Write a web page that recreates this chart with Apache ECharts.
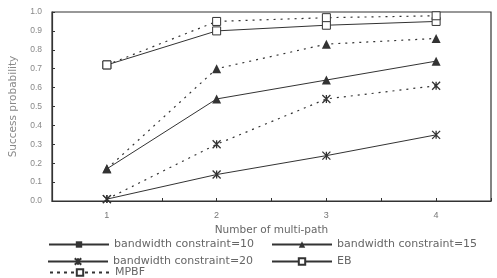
<!DOCTYPE html>
<html>
<head>
<meta charset="utf-8">
<script src="https://cdn.jsdelivr.net/npm/echarts@6/dist/echarts.min.js"></script>
<style>
  html, body { margin: 0; padding: 0; background: #fff; }
  #chart { width: 497px; height: 278px; }
</style>
</head>
<body>
<div id="chart"></div>
<script>
// number of multi-path
const paths = [1, 2, 3, 4]
const yTicks = [0, 0.1, 0.2, 0.3, 0.4, 0.5, 0.6, 0.7, 0.8, 0.9, 1.0]

// EB = solid lines, MPBF = dotted lines
const ebBw10 = [0.72, 0.90, 0.93, 0.95]
const mpbfBw10 = [0.72, 0.95, 0.97, 0.98]
const ebBw15 = [0.17, 0.54, 0.64, 0.74]
const mpbfBw15 = [0.17, 0.70, 0.83, 0.86]
const ebBw20 = [0.01, 0.14, 0.24, 0.35]
const mpbfBw20 = [0.01, 0.30, 0.54, 0.61]

const legendNames = ['bandwidth constraint=10', 'bandwidth constraint=15', 'bandwidth constraint=20', 'EB', 'MPBF']

const ink = '#333'
const star = 'path://M0,0L10,10M10,0L0,10M5,0L5,10'

const pairs = (vals) => paths.map((p, i) => [p, vals[i]])

const solid = { color: ink, width: 1, type: 'solid' }
const dotted = { color: ink, width: 1.2, type: [2, 5] }

const markStyle = {
  rect: { symbol: 'rect', symbolSize: 8, itemStyle: { color: '#fff', borderColor: ink, borderWidth: 1 } },
  tri: { symbol: 'triangle', symbolSize: 9, itemStyle: { color: ink, borderColor: ink, borderWidth: 0 } },
  star: { symbol: star, symbolSize: 8, itemStyle: { color: ink, borderColor: ink, borderWidth: 1.3 } }
}

const dataSeries = (name, vals, mark, line) => ({
  name: name,
  type: 'line',
  data: pairs(vals),
  symbol: markStyle[mark].symbol,
  symbolSize: markStyle[mark].symbolSize,
  itemStyle: markStyle[mark].itemStyle,
  lineStyle: line,
  animation: false,
  z: 3
})

// legend-only series
const legendSeries = (name, symbol, size, item, line) => ({
  name: name,
  type: 'line',
  data: [],
  symbol: symbol,
  symbolSize: size,
  itemStyle: item,
  lineStyle: line
})

const legendText = { color: '#666', fontSize: 11, fontFamily: 'DejaVu Sans' }
const oneLegend = (name, left, top) => ({
  data: [name],
  left: left,
  top: top,
  padding: 0,
  itemWidth: 60,
  itemHeight: 8,
  selectedMode: false,
  textStyle: legendText
})

const chart = echarts.init(document.getElementById('chart'), null, { renderer: 'canvas' })

chart.setOption({
  animation: false,
  backgroundColor: '#fff',
  grid: {
    left: 48,
    right: 6,
    top: 12,
    height: 189,
    show: true,
    borderColor: ink,
    borderWidth: 1.2
  },
  xAxis: {
    type: 'value',
    min: 0.5,
    max: 4.5,
    interval: 0.5,
    name: 'Number of multi-path',
    nameLocation: 'middle',
    nameGap: 24,
    nameTextStyle: { color: '#666', fontSize: 10.5, fontFamily: 'DejaVu Sans' },
    axisLine: { lineStyle: { color: ink, width: 1.2 } },
    axisTick: { inside: true, length: 3, lineStyle: { color: ink } },
    splitLine: { show: false },
    axisLabel: {
      color: '#777',
      fontSize: 9,
      margin: 10,
      formatter: (v) => (paths.indexOf(v) >= 0 ? String(v) : '')
    }
  },
  yAxis: {
    type: 'value',
    min: yTicks[0],
    max: yTicks[yTicks.length - 1],
    interval: 0.1,
    name: 'Success probability',
    nameLocation: 'middle',
    nameGap: 33,
    nameTextStyle: { color: '#888', fontSize: 10.5, fontFamily: 'DejaVu Sans' },
    axisLine: { show: true, lineStyle: { color: ink, width: 1.2 } },
    axisTick: { show: true, inside: true, length: 3, lineStyle: { color: ink } },
    splitLine: { show: false },
    axisLabel: {
      color: '#888',
      fontSize: 8.5,
      margin: 10,
      formatter: (v) => v.toFixed(1)
    }
  },
  legend: [
    oneLegend(legendNames[0], 48, 239),
    oneLegend(legendNames[1], 271, 239),
    oneLegend(legendNames[2], 47, 256),
    oneLegend(legendNames[3], 271, 256),
    oneLegend(legendNames[4], 49, 267)
  ],
  series: [
    dataSeries('EB 10', ebBw10, 'rect', solid),
    dataSeries('MPBF 10', mpbfBw10, 'rect', dotted),
    dataSeries('EB 15', ebBw15, 'tri', solid),
    dataSeries('MPBF 15', mpbfBw15, 'tri', dotted),
    dataSeries('EB 20', ebBw20, 'star', solid),
    dataSeries('MPBF 20', mpbfBw20, 'star', dotted),
    legendSeries(legendNames[0], 'rect', 6, { color: ink }, solid),
    legendSeries(legendNames[1], 'triangle', 8, { color: ink }, solid),
    legendSeries(legendNames[2], star, 7, { color: ink, borderColor: ink, borderWidth: 1.3 }, solid),
    legendSeries(legendNames[3], 'rect', 8, { color: '#fff', borderColor: ink, borderWidth: 1 }, solid),
    legendSeries(legendNames[4], 'rect', 8, { color: '#fff', borderColor: ink, borderWidth: 1 }, { color: ink, width: 1, type: [3, 4] })
  ]
})
</script>
</body>
</html>
